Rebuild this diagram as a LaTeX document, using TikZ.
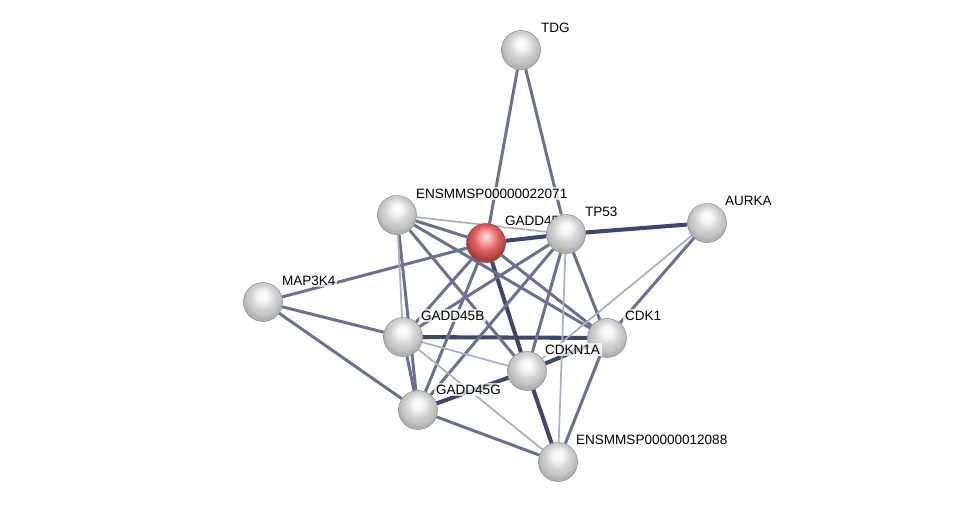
\documentclass[tikz,border=0pt]{standalone}
\usepackage{fontspec}
\setmainfont{Liberation Sans}
\usetikzlibrary{backgrounds}
\definecolor{edgeDark}{HTML}{3E4767}
\definecolor{edgeMid}{HTML}{6A7190}
\definecolor{edgeLow}{HTML}{AAAFC3}
\definecolor{protDraw}{HTML}{8A8A8A}
\definecolor{seedDraw}{HTML}{9A3A3E}
\pgfdeclareradialshading{protBall}{\pgfpoint{0bp}{9bp}}{%
  color(0bp)=(white); color(7bp)=(white!96!black); color(16bp)=(white!82!black);
  color(22bp)=(white!76!black); color(25bp)=(white!70!black); color(50bp)=(white!65!black)}
\pgfdeclareradialshading{seedBall}{\pgfpoint{0bp}{9bp}}{%
  color(0bp)=(white!92!red); color(7bp)=(red!35!white); color(16bp)=(red!55!white!85!black);
  color(22bp)=(red!60!white!75!black); color(25bp)=(red!60!white!65!black); color(50bp)=(red!60!white!60!black)}

\begin{document}
\begin{tikzpicture}[
  x=0.2mm, y=-0.2mm,
  font=\fontsize{7.7}{9}\selectfont,
  prot/.style={circle, minimum size=7.8mm, inner sep=0pt, draw=protDraw,
               line width=0.3pt, shading=protBall},
  seed/.style={prot, draw=seedDraw, shading=seedBall},
  lbl/.style={anchor=base west, inner sep=1pt, fill=white, fill opacity=0.75,
              text opacity=1},
  lnkHi/.style={line width=2.3pt, draw=edgeDark},
  lnkMid/.style={line width=1.7pt, draw=edgeMid},
  lnkLo/.style={line width=1pt, draw=edgeLow},
]
\useasboundingbox (0,0) rectangle (975,507);

% ---- proteins, each with its name ----
\node[prot] (tdg)     at (521,50)  {};
\node[lbl]  (tdgL)    at (539,32)  {TDG};
\node[prot] (ens22)   at (397,215) {};
\node[lbl]  (ens22L)  at (414,198) {ENSMMSP00000022071};
\node[seed] (gadd45)  at (486,243) {};
\node[lbl]  (gadd45L) at (503,225) {GADD45};
\node[prot] (tp53)    at (566,234) {};
\node[lbl]  (tp53L)   at (583,216) {TP53};
\node[prot] (aurka)   at (707,223) {};
\node[lbl]  (aurkaL)  at (723,205) {AURKA};
\node[prot] (map3k4)  at (263,302) {};
\node[lbl]  (map3k4L) at (280,285) {MAP3K4};
\node[prot] (gadd45b) at (403,337) {};
\node[lbl]  (gadd45bL) at (419,320) {GADD45B};
\node[prot] (cdk1)    at (607,338) {};
\node[lbl]  (cdk1L)   at (623,320) {CDK1};
\node[prot] (cdkn1a)  at (527,371) {};
\node[lbl]  (cdkn1aL) at (543,354) {CDKN1A};
\node[prot] (gadd45g) at (418,410) {};
\node[lbl]  (gadd45gL) at (434,394) {GADD45G};
\node[prot] (ens12)   at (558,462) {};
\node[lbl]  (ens12L)  at (574,444) {ENSMMSP00000012088};

% ---- interactions ----
\begin{scope}[on background layer]
\draw[lnkHi]  (gadd45) -- (tp53);
\draw[lnkHi]  (tp53) -- (aurka);
\draw[lnkHi]  (gadd45) -- (cdkn1a);
\draw[lnkHi]  (gadd45b) -- (cdk1);
\draw[lnkHi]  (cdkn1a) -- (cdk1);
\draw[lnkHi]  (gadd45g) -- (cdkn1a);
\draw[lnkHi]  (cdkn1a) -- (ens12);

\draw[lnkMid] (tdg) -- (gadd45);
\draw[lnkMid] (tdg) -- (tp53);
\draw[lnkMid] (ens22) -- (gadd45);
\draw[lnkMid] (ens22) -- (cdkn1a);
\draw[lnkMid] (ens22) -- (cdk1);
\draw[lnkMid] (ens22) -- (gadd45g);
\draw[lnkMid] (gadd45) -- (map3k4);
\draw[lnkMid] (gadd45) -- (gadd45b);
\draw[lnkMid] (gadd45) -- (gadd45g);
\draw[lnkMid] (gadd45) -- (cdk1);
\draw[lnkMid] (tp53) -- (gadd45b);
\draw[lnkMid] (tp53) -- (gadd45g);
\draw[lnkMid] (tp53) -- (cdkn1a);
\draw[lnkMid] (tp53) -- (cdk1);
\draw[lnkMid] (map3k4) -- (gadd45b);
\draw[lnkMid] (map3k4) -- (gadd45g);
\draw[lnkMid] (gadd45b) -- (gadd45g);
\draw[lnkMid] (gadd45g) -- (ens12);
\draw[lnkMid] (cdk1) -- (ens12);
\draw[lnkMid] (cdk1) -- (aurka);

\draw[lnkLo]  (ens22) -- (tp53);
\draw[lnkLo]  (ens22) -- (gadd45b);
\draw[lnkLo]  (tp53) -- (ens12);
\draw[lnkLo]  (gadd45b) -- (cdkn1a);
\draw[lnkLo]  (gadd45b) -- (ens12);
\draw[lnkLo]  (aurka) -- (cdkn1a);
\end{scope}

\end{tikzpicture}
\end{document}
